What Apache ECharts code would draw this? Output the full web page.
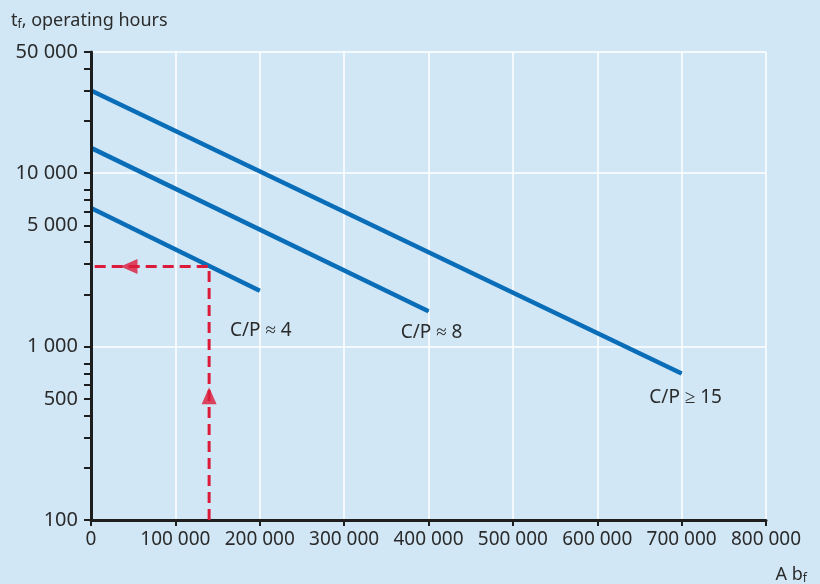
<!DOCTYPE html>
<html>
<head>
<meta charset="utf-8">
<script src="https://cdn.jsdelivr.net/npm/echarts@6/dist/echarts.min.js"></script>
<style>
  html, body { margin: 0; padding: 0; background: #d1e7f6; }
  #chart { width: 820px; height: 584px; }
</style>
</head>
<body>
<div id="chart"></div>
<script>
// values
const cp15 = [[0, 30000], [700000, 700]];
const cp8 = [[0, 14000], [400000, 1600]];
const cp4 = [[0, 6300], [200000, 2100]];
const lineNames = ["C/P ≥ 15", "C/P ≈ 8", "C/P ≈ 4"];

// example: A bf = 140 000 -> tf ≈ 2 900 h
const exampleX = 140000;
const exampleY = 2900;
const guidePath = [[exampleX, 100], [exampleX, exampleY], [0, exampleY]];
const arrowUp = [[exampleX, 520]];
const arrowLeft = [[45000, exampleY]];

const yTickValues = [100, 200, 300, 400, 500, 600, 700, 800, 1000, 2000, 3000, 4000,
  5000, 6000, 7000, 8000, 10000, 20000, 30000, 40000, 50000];
const yLabelValues = [100, 500, 1000, 5000, 10000, 50000];

const textColor = "#2b2b2b";
const blue = "#0a6db8";
const red = "#dc1a3a";
const font = "Noto Sans";

const fmt = (v) => String(Math.round(v)).replace(/\B(?=(\d{3})+(?!\d))/g, " ");

const endLabel = (data, name, distance, dx) =>
  data.map((p, i) =>
    i === data.length - 1
      ? {
          value: p,
          label: {
            show: true,
            formatter: name,
            position: "bottom",
            distance: distance,
            offset: [dx, 0],
            color: textColor,
            fontSize: 19,
            fontFamily: font,
          },
        }
      : p
  );

const blueLine = (data, name, distance, dx) => ({
  name: name,
  type: "line",
  data: endLabel(data, name, distance, dx),
  symbol: "circle",
  symbolSize: 1,
  showSymbol: true,
  lineStyle: { color: blue, width: 4.5 },
  itemStyle: { color: blue },
  emphasis: { disabled: true },
  z: 3,
});

const rich = {
  a: { fontSize: 18, color: textColor, fontFamily: font, fontWeight: "normal" },
  b: { fontSize: 12, color: textColor, fontFamily: font, fontWeight: "normal", padding: [8, 0, 0, 0] },
};

const chart = echarts.init(document.getElementById("chart"));

chart.setOption({
  backgroundColor: "#d1e7f6",
  animation: false,
  textStyle: { fontFamily: font },
  title: [
    {
      text: "{a|t}{b|f}{a|, operating hours}",
      left: 6,
      top: 6,
      textStyle: { fontWeight: "normal", rich: rich },
    },
    {
      text: "{a|A b}{b|f}",
      right: 8,
      top: 560,
      textStyle: { fontWeight: "normal", rich: rich },
    },
  ],
  grid: {
    left: 91,
    right: 54,
    top: 52,
    bottom: 64,
    containLabel: false,
    outerBoundsMode: "none",
  },
  xAxis: {
    type: "value",
    min: 0,
    max: 800000,
    interval: 100000,
    axisLine: { show: true, onZero: false, lineStyle: { color: "#1e1e1e", width: 3 } },
    axisTick: { show: true, length: 6, lineStyle: { color: "#1e1e1e", width: 2 } },
    axisLabel: {
      color: textColor,
      fontSize: 19,
      fontFamily: font,
      margin: 10,
      formatter: fmt,
    },
    splitLine: { show: true, lineStyle: { color: "#ffffff", width: 1.5 } },
  },
  yAxis: [
    {
      type: "log",
      logBase: 10,
      min: 100,
      max: 50000,
      position: "left",
      axisLine: { show: true, lineStyle: { color: "#1e1e1e", width: 3 } },
      axisTick: {
        show: true,
        length: 7,
        customValues: yTickValues,
        lineStyle: { color: "#1e1e1e", width: 2 },
      },
      axisLabel: {
        color: textColor,
        fontSize: 20,
        fontFamily: font,
        margin: 13,
        customValues: yLabelValues,
        formatter: fmt,
      },
      splitLine: { show: false },
      z: 4,
    },
    {
      // decade grid lines only
      type: "log",
      logBase: 10,
      min: 100,
      max: 50000,
      position: "left",
      axisLine: { show: false },
      axisTick: { show: false },
      axisLabel: { show: false },
      splitLine: { show: true, lineStyle: { color: "#ffffff", width: 1.5 } },
    },
  ],
  series: [
    blueLine(cp15, lineNames[0], 14, 4),
    blueLine(cp8, lineNames[1], 11, 3),
    blueLine(cp4, lineNames[2], 30, 1),
    {
      type: "line",
      data: guidePath,
      symbol: "none",
      lineStyle: { color: red, width: 3, type: [11, 6] },
      emphasis: { disabled: true },
      z: 4,
    },
    {
      type: "scatter",
      data: arrowUp,
      symbol: "triangle",
      symbolSize: [15, 17],
      itemStyle: { color: red },
      emphasis: { disabled: true },
      z: 5,
    },
    {
      type: "scatter",
      data: arrowLeft,
      symbol: "triangle",
      symbolSize: [15, 17],
      symbolRotate: 90,
      itemStyle: { color: red },
      emphasis: { disabled: true },
      z: 5,
    },
  ],
});
</script>
</body>
</html>
